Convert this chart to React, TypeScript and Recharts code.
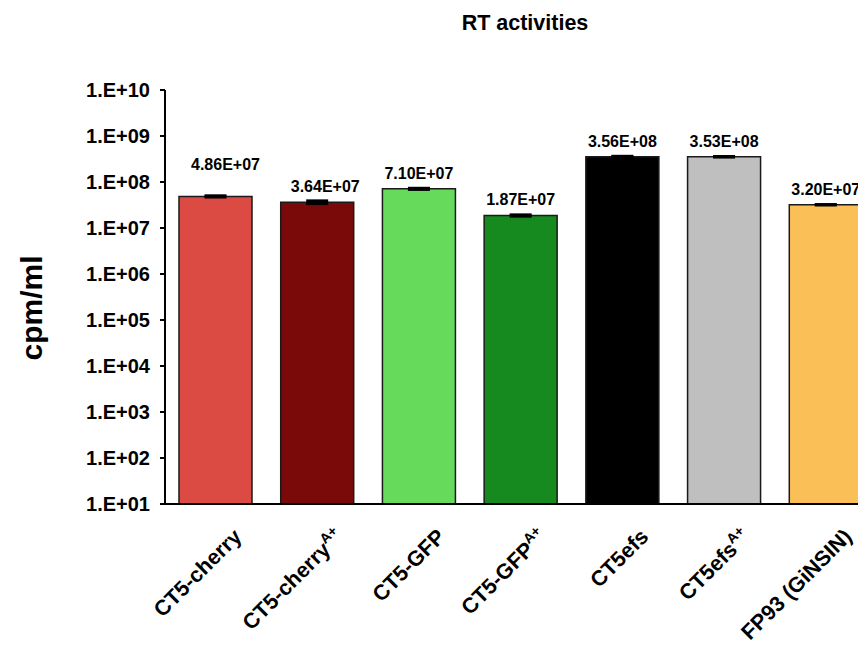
import { BarChart, Bar, XAxis, YAxis, ErrorBar, LabelList, Cell } from "recharts";

const categories = [
  "CT5-cherry",
  "CT5-cherryA+",
  "CT5-GFP",
  "CT5-GFPA+",
  "CT5efs",
  "CT5efsA+",
  "FP93 (GiNSIN)",
];
const tickBase = ["CT5-cherry", "CT5-cherry", "CT5-GFP", "CT5-GFP", "CT5efs", "CT5efs", "FP93 (GiNSIN)"];
const tickSup = ["", "A+", "", "A+", "", "A+", ""];

const activity = [4.86e7, 3.64e7, 7.1e7, 1.87e7, 3.56e8, 3.53e8, 3.2e7];
const activityErr = [1.5e6, 2.5e6, 2e6, 6e5, 6e6, 5e6, 3e5];

const yTicks = [1e1, 1e2, 1e3, 1e4, 1e5, 1e6, 1e7, 1e8, 1e9, 1e10];

const barColors = ["#DB4B44", "#7A0909", "#66DA5A", "#16891F", "#000000", "#BFBFBF", "#FBBF58"];

// hand-placed value labels in the original (dx, lift)
const labelNudge: Record<string, [number, number]> = {
  "CT5-cherry": [10, 16],
  "CT5-cherryA+": [8, 0],
};

const FONT = '"Liberation Sans", Arial, Helvetica, sans-serif';

const data = categories.map((name, i) => ({
  name,
  value: activity[i],
  err: activityErr[i],
}));

function sci(v: number) {
  const e = Math.floor(Math.log10(v));
  const m = v / Math.pow(10, e);
  return `${m.toFixed(2)}E${e >= 0 ? "+" : "-"}${String(Math.abs(e)).padStart(2, "0")}`;
}

function logTick(v: number) {
  const e = Math.round(Math.log10(v));
  return `1.E+${String(e).padStart(2, "0")}`;
}

function CategoryTick(props: any) {
  const { x, y, payload } = props;
  const i = props.index ?? categories.indexOf(payload.value);
  const ax = x + 27;
  const ay = y + 34;
  return (
    <text
      x={ax}
      y={ay}
      textAnchor="end"
      transform={`rotate(-45, ${ax}, ${ay})`}
      fontFamily={FONT}
      fontWeight="bold"
      fontSize={21.5}
      fill="#000"
    >
      {tickBase[i]}
      {tickSup[i] ? (
        <tspan fontSize={14} dy={-9}>
          {tickSup[i]}
        </tspan>
      ) : null}
    </text>
  );
}

function ValueLabel(props: any) {
  const { x, y, width, index } = props;
  const [dx, lift] = labelNudge[categories[index]] ?? [0, 0];
  return (
    <text
      x={x + width / 2 + dx}
      y={y - 10 - lift}
      textAnchor="middle"
      fontFamily={FONT}
      fontWeight="bold"
      fontSize={16}
      fill="#000"
    >
      {sci(activity[index])}
    </text>
  );
}

function YTitle() {
  return (
    <text
      x={34}
      y={300}
      textAnchor="middle"
      transform="rotate(-90, 34, 300)"
      fontFamily={FONT}
      fontWeight="bold"
      fontSize={30}
      fill="#000"
    >
      cpm/ml
    </text>
  );
}

export default function App() {
  return (
    <div style={{ position: "relative", width: 858, height: 645, overflow: "hidden" }}>
      <svg width={858} height={40} style={{ position: "absolute", left: 0, top: 0 }}>
        <text x={517} y={22} textAnchor="middle" fontFamily={FONT} fontWeight="bold" fontSize={21.5} fill="#000">
          RT activities
        </text>
      </svg>
      <BarChart
        width={880}
        height={645}
        data={data}
        margin={{ top: 82, right: 11, left: 67, bottom: 9 }}
      >
        <XAxis
          dataKey="name"
          interval={0}
          tickLine={false}
          tickSize={0}
          tickMargin={0}
          height={140}
          axisLine={{ stroke: "#000", strokeWidth: 2 }}
          tick={<CategoryTick />}
        />
        <YAxis
          scale="log"
          domain={[1e1, 1e10]}
          ticks={yTicks}
          allowDataOverflow
          width={90}
          tickSize={5}
          tickMargin={10}
          tickFormatter={logTick}
          axisLine={{ stroke: "#000", strokeWidth: 2 }}
          tickLine={{ stroke: "#000", strokeWidth: 2 }}
          tick={{ fill: "#000", fontFamily: FONT, fontWeight: "bold", fontSize: 20 }}
          label={<YTitle />}
        />
        <Bar dataKey="value" barSize={73} stroke="#1a1a1a" strokeWidth={1.5} isAnimationActive={false}>
          {data.map((d, i) => (
            <Cell key={d.name} fill={barColors[i]} />
          ))}
          <ErrorBar dataKey="err" direction="y" width={11} strokeWidth={3} stroke="#000" isAnimationActive={false} />
          <LabelList dataKey="value" content={<ValueLabel />} />
        </Bar>
      </BarChart>
    </div>
  );
}
